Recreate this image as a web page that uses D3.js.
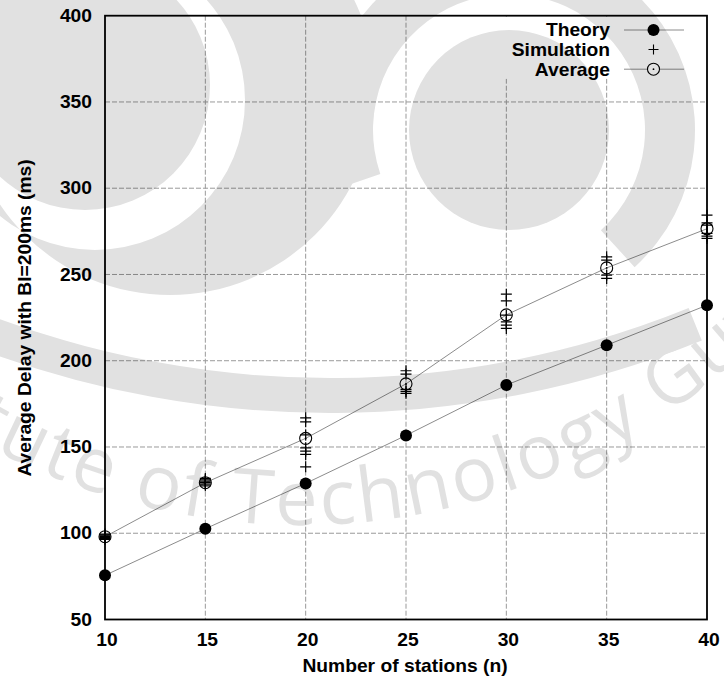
<!DOCTYPE html>
<html>
<head>
<meta charset="utf-8">
<script src="https://cdn.jsdelivr.net/npm/d3@7"></script>
<style>
  html, body { margin: 0; padding: 0; background: #fff; }
  svg { display: block; }
  text.lbl { font-family: "Liberation Sans", Arial, Helvetica, sans-serif; font-weight: bold; fill: #000; }
</style>
</head>
<body>
<svg id="chart" width="724" height="680"></svg>
<script>
// Number of stations on the x axis
const stations = [10, 15, 20, 25, 30, 35, 40];
// Analytical delay (ms)
const theory = [75.6, 102.6, 128.9, 156.7, 185.9, 209.0, 232.2];
// Mean of the simulation runs (ms)
const average = [98.0, 129.3, 155.0, 186.6, 226.6, 253.8, 276.5];
// Individual simulation runs at each station count (ms)
const simulation = [
  [99.5, 99.0, 98.5, 98.0, 97.5, 97.0, 96.5],
  [131.8, 131.0, 130.2, 129.3, 128.5, 127.5],
  [166.9, 164.6, 157.0, 149.5, 147.6, 145.7, 138.5],
  [194.2, 192.2, 183.4, 182.2, 181.1],
  [238.6, 234.7, 226.4, 222.5, 220.6, 218.7],
  [260.2, 258.3, 249.6, 247.7],
  [284.4, 279.9, 278.6, 273.8, 272.2, 270.9]
];
const xTicks = [10, 15, 20, 25, 30, 35, 40];
const yTicks = [50, 100, 150, 200, 250, 300, 350, 400];
const legendLabels = ["Theory", "Simulation", "Average"];
const xTitle = "Number of stations (n)";
const yTitle = "Average Delay with BI=200ms (ms)";
const watermarkText = "Indian Institute of Technology Guwahati";

const svg = d3.select("#chart");
const pLeft = 105, pRight = 707, pTop = 15.7, pBottom = 619.5;

const x = d3.scaleLinear().domain([10, 40]).range([pLeft, pRight]);
const y = d3.scaleLinear().domain([50, 400]).range([pBottom, pTop]);

const SX = 1.1; // glyphs are drawn slightly wide
function label(g, str, px, py, anchor, size) {
  return g.append("text").attr("class", "lbl")
    .attr("transform", `translate(${px},${py}) scale(${SX},1)`)
    .attr("text-anchor", anchor)
    .style("font-size", size + "px")
    .text(str);
}

// grid
const grid = svg.append("g");
grid.selectAll("line.gx").data(xTicks.slice(1, -1)).join("line")
  .attr("x1", d => x(d)).attr("x2", d => x(d))
  .attr("y1", pTop).attr("y2", pBottom)
  .attr("stroke", "#9a9a9a").attr("stroke-width", 1).attr("stroke-dasharray", "5,2");
grid.selectAll("line.gy").data(yTicks.slice(1, -1)).join("line")
  .attr("x1", pLeft).attr("x2", pRight)
  .attr("y1", d => y(d)).attr("y2", d => y(d))
  .attr("stroke", "#9a9a9a").attr("stroke-width", 1).attr("stroke-dasharray", "5,2");

// connecting lines
const line = d3.line().x(d => x(d[0])).y(d => y(d[1]));
svg.append("path").datum(stations.map((s, i) => [s, theory[i]]))
  .attr("d", line).attr("fill", "none").attr("stroke", "#8c8c8c").attr("stroke-width", 1);
svg.append("path").datum(stations.map((s, i) => [s, average[i]]))
  .attr("d", line).attr("fill", "none").attr("stroke", "#8c8c8c").attr("stroke-width", 1);

// theory points
svg.append("g").selectAll("circle").data(stations.map((s, i) => [s, theory[i]])).join("circle")
  .attr("cx", d => x(d[0])).attr("cy", d => y(d[1])).attr("r", 6).attr("fill", "#000");

// simulation runs as plus marks
const runs = [];
stations.forEach((s, i) => simulation[i].forEach(v => runs.push([s, v])));
const A = 5.5;
const plus = svg.append("g").attr("stroke", "#000").attr("stroke-width", 1.2);
plus.selectAll("path").data(runs).join("path")
  .attr("d", d => {
    const cx = x(d[0]), cy = y(d[1]);
    return `M${cx - A},${cy}H${cx + A}M${cx},${cy - A}V${cy + A}`;
  });

// averages as open circles with a centre dot
const avg = svg.append("g");
avg.selectAll("circle.o").data(stations.map((s, i) => [s, average[i]])).join("circle")
  .attr("cx", d => x(d[0])).attr("cy", d => y(d[1])).attr("r", 6)
  .attr("fill", "none").attr("stroke", "#000").attr("stroke-width", 1.1);
avg.selectAll("circle.d").data(stations.map((s, i) => [s, average[i]])).join("circle")
  .attr("cx", d => x(d[0])).attr("cy", d => y(d[1])).attr("r", 0.9).attr("fill", "#000");

// legend
const lg = svg.append("g");
lg.append("rect").attr("x", 500).attr("y", pTop + 1).attr("width", pRight - 501).attr("height", 62).attr("fill", "#fff");
const rowY = [30, 49.5, 69.2];
legendLabels.forEach((t, i) => label(lg, t, 610, rowY[i] + 6.3, "end", 17.5));
const sx0 = 624, sx1 = 684, sm = 653.5;
[0, 2].forEach(i => lg.append("line").attr("x1", sx0).attr("x2", sx1).attr("y1", rowY[i]).attr("y2", rowY[i])
  .attr("stroke", "#8c8c8c").attr("stroke-width", 1));
lg.append("circle").attr("cx", sm).attr("cy", rowY[0]).attr("r", 6).attr("fill", "#000");
lg.append("path").attr("d", `M${sm - 5},${rowY[1]}H${sm + 5}M${sm},${rowY[1] - 5}V${rowY[1] + 5}`)
  .attr("stroke", "#000").attr("stroke-width", 1.1);
lg.append("circle").attr("cx", sm).attr("cy", rowY[2]).attr("r", 6)
  .attr("fill", "#fff").attr("stroke", "#000").attr("stroke-width", 1.1);
lg.append("circle").attr("cx", sm).attr("cy", rowY[2]).attr("r", 0.9).attr("fill", "#000");

// border
svg.append("rect").attr("x", pLeft).attr("y", pTop).attr("width", pRight - pLeft).attr("height", pBottom - pTop)
  .attr("fill", "none").attr("stroke", "#000").attr("stroke-width", 1.8);

// tick labels
const tl = svg.append("g");
yTicks.forEach(v => label(tl, String(v), 92, y(v) + 6.2, "end", 17.5));
xTicks.forEach(v => label(tl, String(v), x(v) + 2, 646, "middle", 17.5));

// axis titles
label(svg, xTitle, 405, 672, "middle", 17.5);
svg.append("text").attr("class", "lbl")
  .attr("transform", `translate(31,318) rotate(-90) scale(${SX},1)`)
  .attr("text-anchor", "middle")
  .style("font-size", "17.5px")
  .text(yTitle);

// faint emblem watermark laid over the whole figure
const wm = svg.append("g").attr("opacity", 0.12).attr("fill", "#000").attr("pointer-events", "none");
const circ = (cx, cy, r) => `M${cx - r},${cy}a${r},${r} 0 1,0 ${2 * r},0a${r},${r} 0 1,0 ${-2 * r},0Z`;
// left emblem: large disk with a ring cut out and an inner disk
wm.append("path").attr("fill-rule", "evenodd").attr("d", circ(170, 90, 205) + circ(95, 100, 150));
wm.append("circle").attr("cx", 85).attr("cy", 85).attr("r", 125);
// right emblem: disk with a partial ring round it
wm.append("circle").attr("cx", 509).attr("cy", 130).attr("r", 100);
wm.append("path").attr("transform", "translate(509,130)")
  .attr("d", d3.arc().innerRadius(136).outerRadius(186).startAngle(-1.9).endAngle(2.4)());
// sweeping band underneath
wm.append("path").attr("transform", "translate(330,-577)")
  .attr("d", d3.arc().innerRadius(955).outerRadius(990).startAngle(Math.PI - 0.385).endAngle(Math.PI + 0.37)());
// lettering along an arc
const R = 660, wcx = 300, wcy = -135, a0 = -1.3, a1 = 1.3;
const pt = a => [wcx + R * Math.sin(a), wcy + R * Math.cos(a)];
const [p0x, p0y] = pt(a0), [p1x, p1y] = pt(a1);
svg.append("defs").append("path").attr("id", "wmArc")
  .attr("d", `M${p0x},${p0y} A${R},${R} 0 0 0 ${p1x},${p1y}`);
const wmFont = t => t.style("font-family", "'Open Sans', 'DejaVu Sans', sans-serif")
  .style("font-weight", "normal").style("font-size", "76px").style("letter-spacing", "3px");
const probe = wmFont(svg.append("text")).text("Indian Institute ");
const lead = probe.node().getComputedTextLength();
probe.remove();
const ofStart = R * (Math.asin((110 - wcx) / R) - a0);
wmFont(wm.append("text"))
  .append("textPath").attr("href", "#wmArc").attr("startOffset", ofStart - lead)
  .text(watermarkText);
</script>
</body>
</html>
